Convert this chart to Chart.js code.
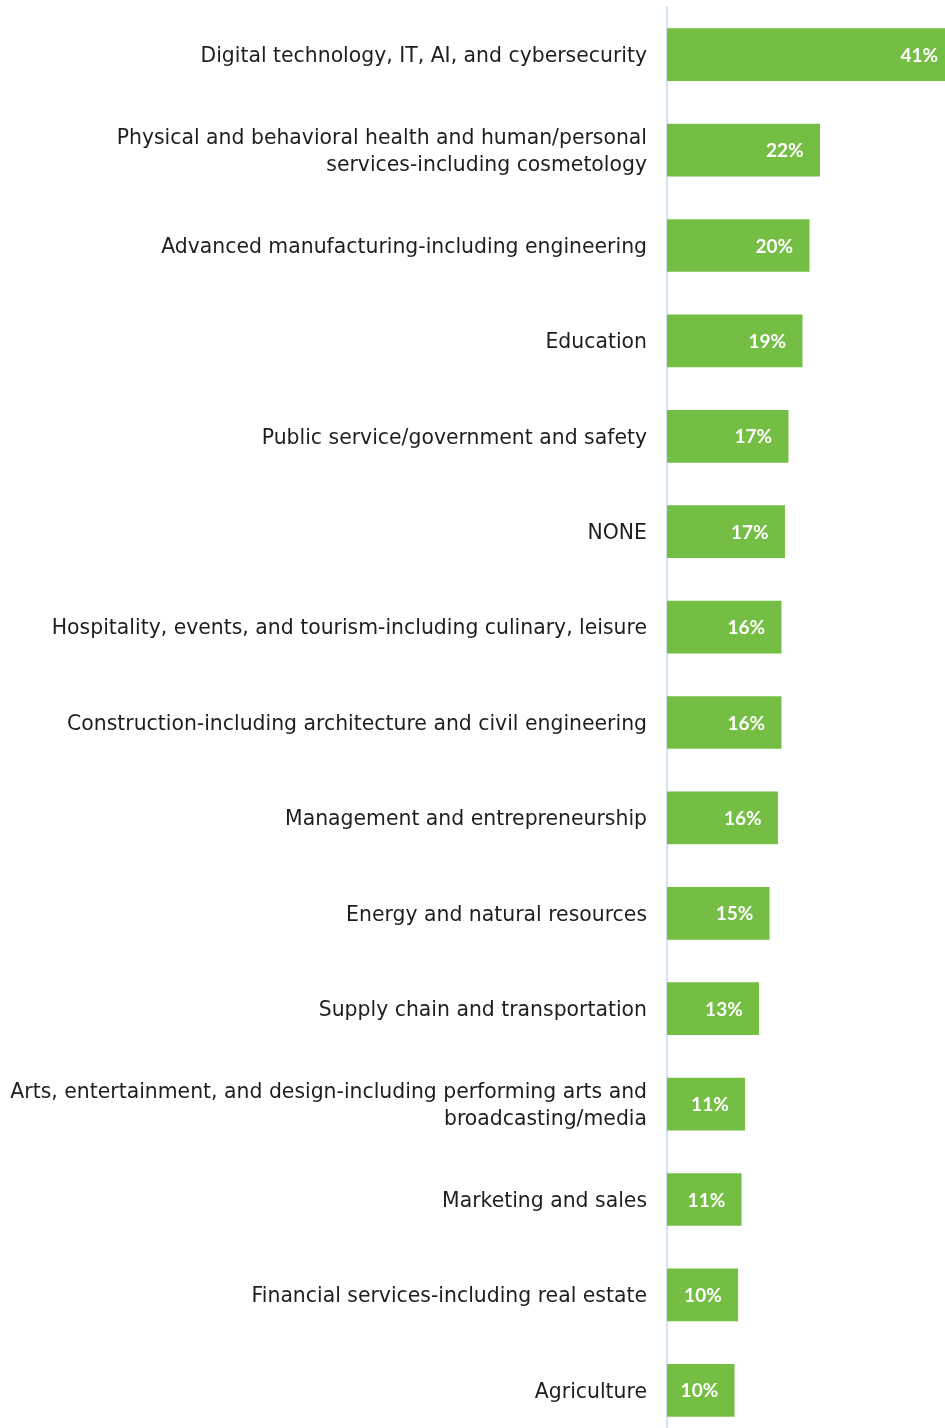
<!DOCTYPE html>
<html>
<head>
<meta charset="utf-8">
<script src="https://cdn.jsdelivr.net/npm/chart.js@4"></script>
<style>
  html, body { margin: 0; padding: 0; background: #fff; }
  #wrap { width: 945px; height: 1428px; overflow: hidden; }
</style>
</head>
<body>
<div id="wrap"><canvas id="myChart" width="945" height="1438"></canvas></div>
<script>
const categories = [
	'Digital technology, IT, AI, and cybersecurity',
	['Physical and behavioral health and human/personal', 'services-including cosmetology'],
	'Advanced manufacturing-including engineering',
	'Education',
	'Public service/government and safety',
	'NONE',
	'Hospitality, events, and tourism-including culinary, leisure',
	'Construction-including architecture and civil engineering',
	'Management and entrepreneurship',
	'Energy and natural resources',
	'Supply chain and transportation',
	['Arts, entertainment, and design-including performing arts and', 'broadcasting/media'],
	'Marketing and sales',
	'Financial services-including real estate',
	'Agriculture'
];
const shares = [41.0, 21.8, 20.3, 19.3, 17.3, 16.8, 16.3, 16.3, 15.8, 14.6, 13.1, 11.1, 10.6, 10.1, 9.6];

const GREEN = '#75be44';

// white percentage at the inner end of every bar
const valueLabels = {
	id: 'valueLabels',
	afterDatasetsDraw(chart) {
		const ctx = chart.ctx;
		const xs = chart.scales.x;
		const meta = chart.getDatasetMeta(0);
		ctx.save();
		ctx.font = 'bold 19px Lato';
		ctx.fillStyle = '#ffffff';
		ctx.textAlign = 'right';
		ctx.textBaseline = 'middle';
		meta.data.forEach((bar, i) => {
			const v = chart.data.datasets[0].data[i];
			const end = xs.getPixelForValue(v);
			ctx.fillText(Math.round(v) + '%', end - 16, bar.y + 1);
		});
		ctx.restore();
	}
};

const ctx = document.getElementById('myChart').getContext('2d');
const myChart = new Chart(ctx, {
	type: 'bar',
	data: {
		labels: categories,
		datasets: [{
			data: shares,
			backgroundColor: GREEN,
			barThickness: 52,
			borderWidth: 0
		}]
	},
	options: {
		indexAxis: 'y',
		responsive: false,
		animation: false,
		layout: { padding: { top: 7, right: 0, bottom: 0, left: 0 } },
		plugins: {
			legend: { display: false },
			tooltip: { enabled: false }
		},
		scales: {
			x: {
				display: false,
				min: 0,
				max: 39.7
			},
			y: {
				afterFit(scale) {
					scale.width = 667;
					// labels stay inside the band, no extra room above/below
					scale.paddingTop = 0;
					scale.paddingBottom = 0;
				},
				grid: { display: false, drawTicks: false },
				border: { display: true, color: '#d3e3f3', width: 2 },
				ticks: {
					padding: 20,
					labelOffset: 2,
					color: '#1e1e1e',
					font: { family: 'DejaVu Sans', size: 20.4, lineHeight: 1.32 }
				}
			}
		}
	},
	plugins: [valueLabels]
});
</script>
</body>
</html>
